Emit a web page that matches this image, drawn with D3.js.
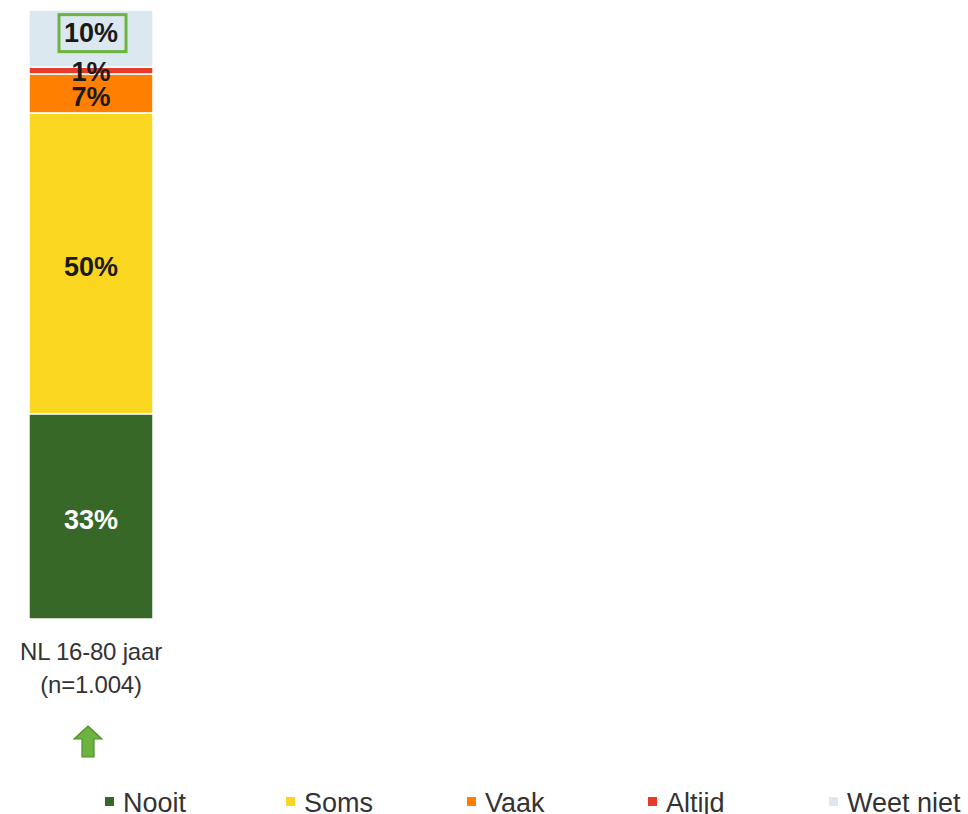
<!DOCTYPE html>
<html>
<head>
<meta charset="utf-8">
<script src="https://cdn.jsdelivr.net/npm/d3@7"></script>
<style>
  body { margin: 0; background: #fff; }
  text { font-family: "Liberation Sans", Arial, sans-serif; }
</style>
</head>
<body>
<div id="chart"></div>
<script>
// data
var categories = ["NL 16-80 jaar"];
var categoryLines = [["NL 16-80 jaar", "(n=1.004)"]];
var series = ["Nooit", "Soms", "Vaak", "Altijd", "Weet niet"];
var values = [33.7, 49.4, 6.4, 1.1, 9.4];
var valueLabels = ["33%", "50%", "7%", "1%", "10%"];
var colors = ["#376828", "#fbd620", "#ff8000", "#e63b2a", "#dce8f0"];
var labelColors = ["#ffffff", "#1a1a1a", "#1a1a1a", "#1a1a1a", "#1a1a1a"];

var width = 968, height = 814;

var svg = d3.select("#chart").append("svg")
    .attr("width", width)
    .attr("height", height);

var x = d3.scaleBand()
    .domain(categories)
    .range([29, 153])
    .padding(0);

var y = d3.scaleLinear()
    .domain([0, d3.sum(values)])
    .range([619, 10]);

// stack the segments
var stacked = [];
var acc = 0;
values.forEach(function(v, i) {
    stacked.push({name: series[i], y0: acc, y1: acc + v, label: valueLabels[i], color: colors[i], labelColor: labelColors[i], cat: categories[0]});
    acc += v;
});

svg.selectAll("rect.seg").data(stacked).enter().append("rect")
    .attr("class", "seg")
    .attr("x", function(d) { return x(d.cat); })
    .attr("width", x.bandwidth())
    .attr("y", function(d) { return y(d.y1); })
    .attr("height", function(d) { return y(d.y0) - y(d.y1); })
    .attr("fill", function(d) { return d.color; })
    .attr("stroke", "#fff")
    .attr("stroke-width", 1.5);

// value labels
var labels = svg.selectAll("g.lbl").data(stacked).enter().append("g")
    .attr("class", "lbl")
    .attr("transform", function(d) {
        var cy = (y(d.y0) + y(d.y1)) / 2;
        if (d.name == "Weet niet") cy -= 6;
        else if (d.name == "Altijd") cy += 1;
        else cy += 3;
        return "translate(" + (x(d.cat) + x.bandwidth() / 2) + "," + cy + ")";
    });

labels.append("text")
    .attr("text-anchor", "middle")
    .attr("dy", "0.36em")
    .attr("font-size", 27)
    .attr("font-weight", "bold")
    .attr("fill", function(d) { return d.labelColor; })
    .text(function(d) { return d.label; });

// green box round the "Weet niet" label
labels.filter(function(d) { return d.name == "Weet niet"; })
    .insert("rect", "text")
    .attr("x", -32)
    .attr("y", -18)
    .attr("width", 67)
    .attr("height", 37)
    .attr("fill", "none")
    .attr("stroke", "#6db33f")
    .attr("stroke-width", 3);

// category label
categoryLines.forEach(function(lines, i) {
    var t = svg.append("text")
        .attr("text-anchor", "middle")
        .attr("font-size", 24)
        .attr("fill", "#333")
        .attr("letter-spacing", -0.2);
    lines.forEach(function(l, j) {
        t.append("tspan")
            .attr("x", x(categories[i]) + x.bandwidth() / 2)
            .attr("y", 660 + j * 33)
            .text(l);
    });
});

// green up arrow below the bar
var ax = x(categories[0]) + x.bandwidth() / 2 - 3;
svg.append("path")
    .attr("d", "M" + ax + ",726 L" + (ax + 14) + ",739 L" + (ax + 6) + ",739 L" + (ax + 6) + ",757 L" + (ax - 6) + ",757 L" + (ax - 6) + ",739 L" + (ax - 14) + ",739 Z")
    .attr("fill", "#6db33f")
    .attr("stroke", "#4e8f2a")
    .attr("stroke-width", 1.2);

// legend
var lx = d3.scalePoint()
    .domain(series)
    .range([105, 829]);

var legend = svg.selectAll("g.leg").data(series).enter().append("g")
    .attr("class", "leg")
    .attr("transform", function(d) { return "translate(" + lx(d) + ",797)"; });

legend.append("rect")
    .attr("width", 9)
    .attr("height", 9)
    .attr("fill", function(d, i) { return colors[i]; });

legend.append("text")
    .attr("x", 18)
    .attr("y", 15)
    .attr("font-size", 27)
    .attr("fill", "#333")
    .text(function(d) { return d; });
</script>
</body>
</html>
